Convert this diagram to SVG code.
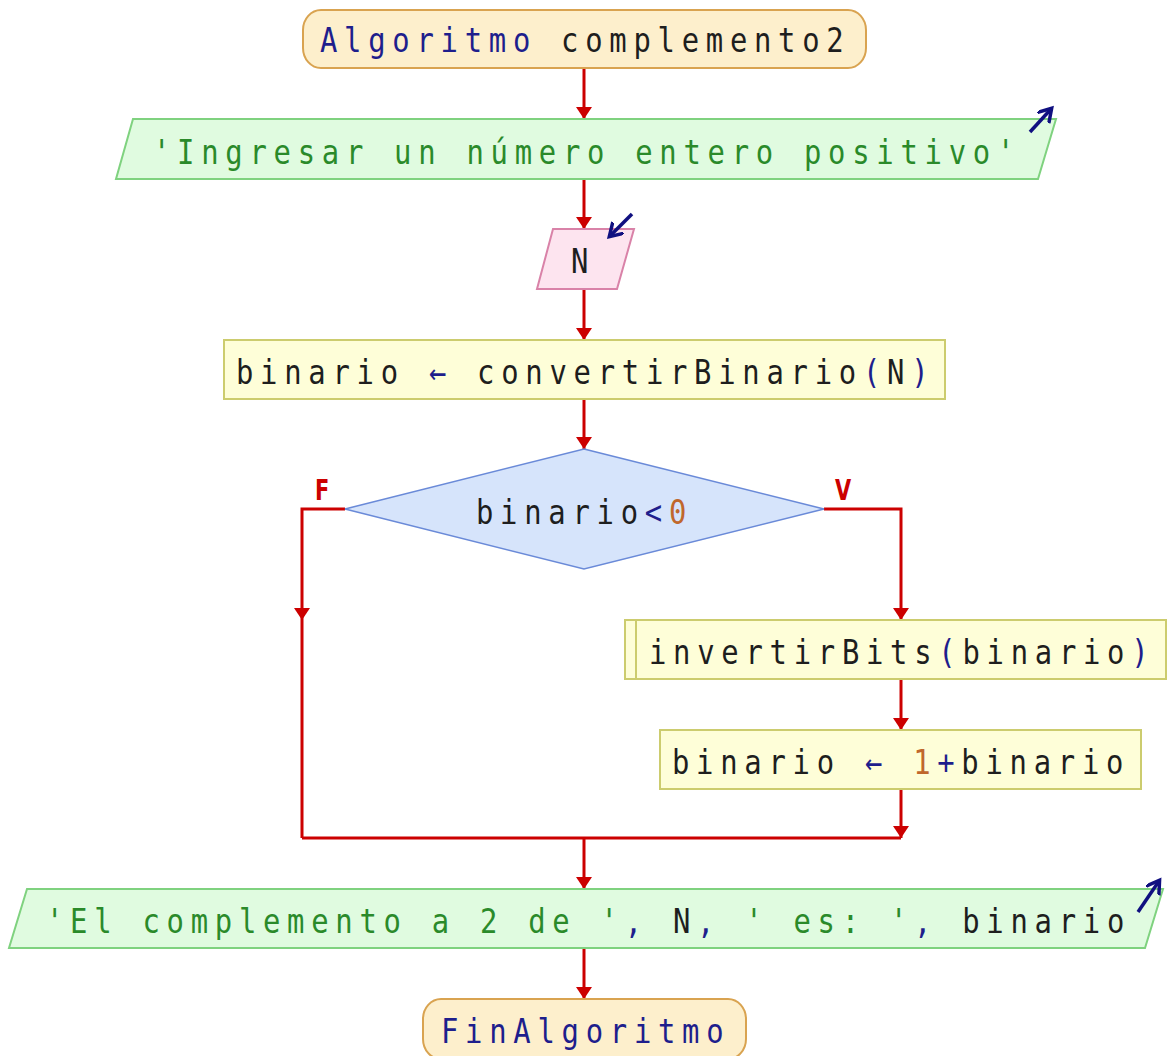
<svg xmlns="http://www.w3.org/2000/svg" width="1168" height="1056" viewBox="0 0 1168 1056">
  <defs>
    <marker id="arrow" markerUnits="userSpaceOnUse" markerWidth="18" markerHeight="18" refX="12" refY="8" orient="auto">
      <path d="M0,0 L12,8 L0,16 Z" fill="#cc0000"/>
    </marker>
    <marker id="io" markerUnits="userSpaceOnUse" markerWidth="18" markerHeight="18" refX="12" refY="8" orient="auto">
      <path d="M0,0 L13,8 L0,16" fill="none" stroke="#101080" stroke-width="3.5"/>
    </marker>
    <style>
      .t { font-family: "DejaVu Sans Mono", "Liberation Mono", monospace; font-size: 34px; letter-spacing: 7.9px; fill: #1e1e1e; }
      .kw { fill: #1e1e8c; }
      .str { fill: #2a8a2a; }
      .num { fill: #c0672c; }
      .term { fill: #fdefcc; stroke: #d9a350; stroke-width: 2; }
      .out { fill: #e0fbe0; stroke: #7fd27f; stroke-width: 2; }
      .in { fill: #fde4ef; stroke: #d982a8; stroke-width: 2; }
      .proc { fill: #fefed8; stroke: #cccc6e; stroke-width: 2; }
      .dec { fill: #d6e4fb; stroke: #6a8ad8; stroke-width: 1.5; }
      .wire { fill: none; stroke: #cc0000; stroke-width: 3; }
      .head { fill: #cc0000; }
      .ioarrow { fill: none; stroke: #101080; stroke-width: 3.5; }
      .lbl { font-family: "DejaVu Sans", "Liberation Sans", sans-serif; font-weight: bold; font-size: 29px; fill: #cc0000; }
    </style>
  </defs>
  <rect width="1168" height="1056" fill="#ffffff"/>

  <!-- connectors -->
  <g id="connectors">
    <line class="wire" x1="584" y1="68" x2="584" y2="119" marker-end="url(#arrow)"/>
    <line class="wire" x1="584" y1="179" x2="584" y2="229" marker-end="url(#arrow)"/>
    <line class="wire" x1="584" y1="289" x2="584" y2="340" marker-end="url(#arrow)"/>
    <line class="wire" x1="584" y1="399" x2="584" y2="449" marker-end="url(#arrow)"/>
    <!-- false branch -->
    <polyline class="wire" points="345,509 302,509 302,838"/>
    <path class="head" d="M294,608 L310,608 L302,620 Z"/>
    <!-- true branch -->
    <polyline class="wire" points="824,509 901,509 901,620" marker-end="url(#arrow)"/>
    <line class="wire" x1="901" y1="679" x2="901" y2="730" marker-end="url(#arrow)"/>
    <line class="wire" x1="901" y1="789" x2="901" y2="838"/>
    <path class="head" d="M893,826 L909,826 L901,838 Z"/>
    <!-- merge -->
    <line class="wire" x1="302" y1="838" x2="901" y2="838"/>
    <line class="wire" x1="584" y1="838" x2="584" y2="889" marker-end="url(#arrow)"/>
    <line class="wire" x1="584" y1="948" x2="584" y2="999" marker-end="url(#arrow)"/>
    <text class="lbl" transform="translate(315,500) scale(0.72,1)">F</text>
    <text class="lbl" transform="translate(835,500) scale(0.72,1)">V</text>
  </g>

  <!-- start -->
  <g id="start">
    <rect class="term" x="303" y="10" width="563" height="58" rx="18" ry="20"/>
    <text class="t" transform="translate(320,52) scale(0.85,1)"><tspan class="kw">Algoritmo</tspan> complemento2</text>
  </g>

  <!-- prompt output -->
  <g id="prompt">
    <polygon class="out" points="133,119 1056,119 1038,179 116,179"/>
    <line class="ioarrow" x1="1030" y1="132" x2="1051" y2="109" marker-end="url(#io)"/>
    <text class="t str" transform="translate(153,164) scale(0.85,1)">'Ingresar un número entero positivo'</text>
  </g>

  <!-- read N -->
  <g id="readN">
    <polygon class="in" points="553,229 634,229 617,289 537,289"/>
    <line class="ioarrow" x1="632" y1="214" x2="610" y2="236" marker-end="url(#io)"/>
    <text class="t" transform="translate(571,273) scale(0.85,1)">N</text>
  </g>

  <!-- convert -->
  <g id="convert">
    <rect class="proc" x="224" y="340" width="721" height="59"/>
    <text class="t" transform="translate(236,384) scale(0.85,1)">binario <tspan class="kw">←</tspan> convertirBinario<tspan class="kw">(</tspan>N<tspan class="kw">)</tspan></text>
  </g>

  <!-- decision -->
  <g id="check">
    <polygon class="dec" points="584,449 824,509 584,569 345,509"/>
    <text class="t" transform="translate(476,524) scale(0.85,1)">binario<tspan class="kw">&lt;</tspan><tspan class="num">0</tspan></text>
  </g>

  <!-- subprocess call -->
  <g id="invert">
    <rect class="proc" x="625" y="620" width="541" height="59"/>
    <line class="proc" x1="636" y1="620" x2="636" y2="679"/>
    <text class="t" transform="translate(649,664) scale(0.85,1)">invertirBits<tspan class="kw">(</tspan>binario<tspan class="kw">)</tspan></text>
  </g>

  <!-- increment -->
  <g id="increment">
    <rect class="proc" x="660" y="730" width="481" height="59"/>
    <text class="t" transform="translate(672,774) scale(0.85,1)">binario <tspan class="kw">←</tspan> <tspan class="num">1</tspan><tspan class="kw">+</tspan>binario</text>
  </g>

  <!-- result output -->
  <g id="result">
    <polygon class="out" points="27,889 1163,889 1145,948 9,948"/>
    <line class="ioarrow" x1="1138" y1="912" x2="1159" y2="881" marker-end="url(#io)"/>
    <text class="t" transform="translate(46,933) scale(0.85,1)"><tspan class="str">'El complemento a 2 de '</tspan><tspan class="kw">,</tspan> N<tspan class="kw">,</tspan> <tspan class="str">' es: '</tspan><tspan class="kw">,</tspan> binario</text>
  </g>

  <!-- end -->
  <g id="end">
    <rect class="term" x="423" y="999" width="323" height="60" rx="18" ry="20"/>
    <text class="t kw" transform="translate(441,1043) scale(0.85,1)">FinAlgoritmo</text>
  </g>
</svg>
